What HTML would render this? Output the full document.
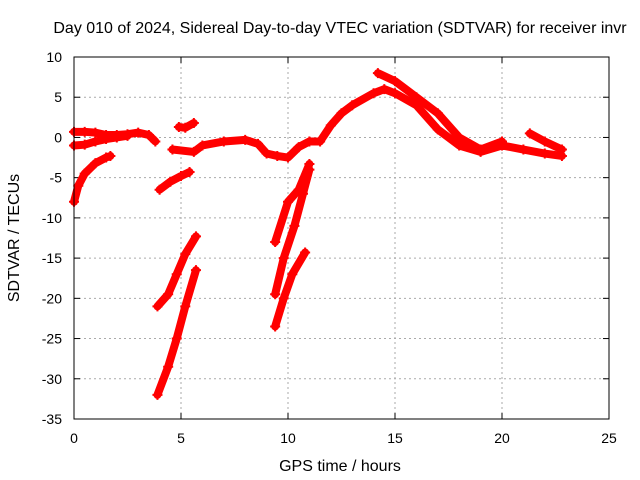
<!DOCTYPE html>
<html><head><meta charset="utf-8"><style>
body{margin:0;background:#fff}
svg{display:block;font-family:"Liberation Sans",sans-serif}
</style></head><body>
<svg id="chart" width="640" height="480" viewBox="0 0 640 480">
<rect width="640" height="480" fill="#fff"/>
<text x="340" y="33" font-size="16" text-anchor="middle">Day 010 of 2024, Sidereal Day-to-day VTEC variation (SDTVAR) for receiver invr</text>
<text x="340" y="471" font-size="16" text-anchor="middle">GPS time / hours</text>
<text x="0" y="0" font-size="16" text-anchor="middle" transform="translate(19,238) rotate(-90)">SDTVAR / TECUs</text>
<g id="grid"></g><g id="ticks"></g><g id="marks"></g>
<rect x="74" y="57" width="535" height="362" fill="none" stroke="#000"/>
</svg>
<script>
const xTicks=[0,5,10,15,20,25];
const yTicks=[10,5,0,-5,-10,-15,-20,-25,-30,-35];
const segA_x=[0,0.5,1,1.5,2,2.5,3,3.5,3.8];
const segA_y=[0.7,0.7,0.6,0.3,0.3,0.4,0.6,0.3,-0.5];
const segA2_x=[0,0.5,1,1.5,2,2.5];
const segA2_y=[-1,-0.9,-0.5,-0.2,0,0.2];
const segB_x=[0,0.2,0.5,1,1.5,1.7];
const segB_y=[-8,-6,-4.5,-3.2,-2.5,-2.3];
const segC_x=[4,4.5,5,5.4];
const segC_y=[-6.5,-5.5,-4.8,-4.3];
const segD_x=[3.9,4.4,4.8,5.2,5.7];
const segD_y=[-21,-19.5,-17,-14.5,-12.3];
const segE_x=[3.9,4.4,4.8,5.2,5.7];
const segE_y=[-32,-28.5,-25,-21,-16.5];
const segF_x=[4.9,5.2,5.6];
const segF_y=[1.3,1.2,1.8];
const segG_x=[4.6,5.6,6,7,8,8.6,9,9.5,10,10.5,11,11.5,12,12.5,13,14,14.5,15,16,17,18,19,20,21,22,22.8];
const segG_y=[-1.5,-1.8,-1,-0.5,-0.3,-0.8,-2,-2.3,-2.5,-1.2,-0.5,-0.5,1.5,3,4,5.5,6,5.5,4,1,-1,-1.8,-1,-1.5,-2,-2.3];
const segG2_x=[14.2,15,16,17,18,19,20];
const segG2_y=[8,7,5,3,0,-1.5,-0.5];
const segG3_x=[21.3,22,22.8];
const segG3_y=[0.5,-0.5,-1.5];
const segH_x=[9.4,10,10.5,11];
const segH_y=[-13,-8,-6.5,-3.3];
const segI_x=[9.4,9.8,10.3,10.7,11];
const segI_y=[-19.5,-15,-11,-7,-4];
const segJ_x=[9.4,9.8,10.2,10.8];
const segJ_y=[-23.5,-20,-17,-14.3];
const series=[[segA_x,segA_y],[segA2_x,segA2_y],[segB_x,segB_y],[segC_x,segC_y],[segD_x,segD_y],[segE_x,segE_y],[segF_x,segF_y],[segG_x,segG_y],[segG2_x,segG2_y],[segG3_x,segG3_y],[segH_x,segH_y],[segI_x,segI_y],[segJ_x,segJ_y]];
const X=v=>74+v*535/25, Y=v=>57+(10-v)*362/45;
const NS="http://www.w3.org/2000/svg";
const grid=document.getElementById('grid'),ticks=document.getElementById('ticks'),marks=document.getElementById('marks');
function mk(t,a,p){const e=document.createElementNS(NS,t);for(const k in a)e.setAttribute(k,a[k]);p.appendChild(e);return e;}
xTicks.forEach(v=>{
 if(v>0&&v<25){const g=mk('line',{x1:X(v),x2:X(v),y1:57,y2:419,stroke:'#aaa','stroke-dasharray':'2,3'},grid);
 
 }
 mk('line',{x1:X(v),x2:X(v),y1:419,y2:413,stroke:'#000'},ticks);
 mk('line',{x1:X(v),x2:X(v),y1:57,y2:63,stroke:'#000'},ticks);
 const t=mk('text',{x:X(v),y:443,'font-size':14,'text-anchor':'middle'},ticks);t.textContent=v;
 
 
});
yTicks.forEach(v=>{
 if(v<10&&v>-35){const g=mk('line',{x1:74,x2:609,y1:Y(v),y2:Y(v),stroke:'#aaa','stroke-dasharray':'2,3'},grid);
 
 }
 mk('line',{x1:74,x2:80,y1:Y(v),y2:Y(v),stroke:'#000'},ticks);
 mk('line',{x1:603,x2:609,y1:Y(v),y2:Y(v),stroke:'#000'},ticks);
 const t=mk('text',{x:62,y:Y(v)+5,'font-size':14,'text-anchor':'end'},ticks);t.textContent=v;
 
 
});
series.forEach(([xs,ys])=>{
 const pts=xs.map((x,i)=>X(x)+','+Y(ys[i])).join(' ');
 const p=mk('polyline',{points:pts,fill:'none',stroke:'#f00','stroke-width':8,'stroke-linejoin':'round','stroke-linecap':'round'},marks);
 
 
 xs.forEach((x,i)=>{
  const m=mk('path',{d:`M${X(x)-5},${Y(ys[i])}h10M${X(x)},${Y(ys[i])-5}v10`,stroke:'#f00','stroke-width':2},marks);
  
  
 });
});
</script>
</body></html>
